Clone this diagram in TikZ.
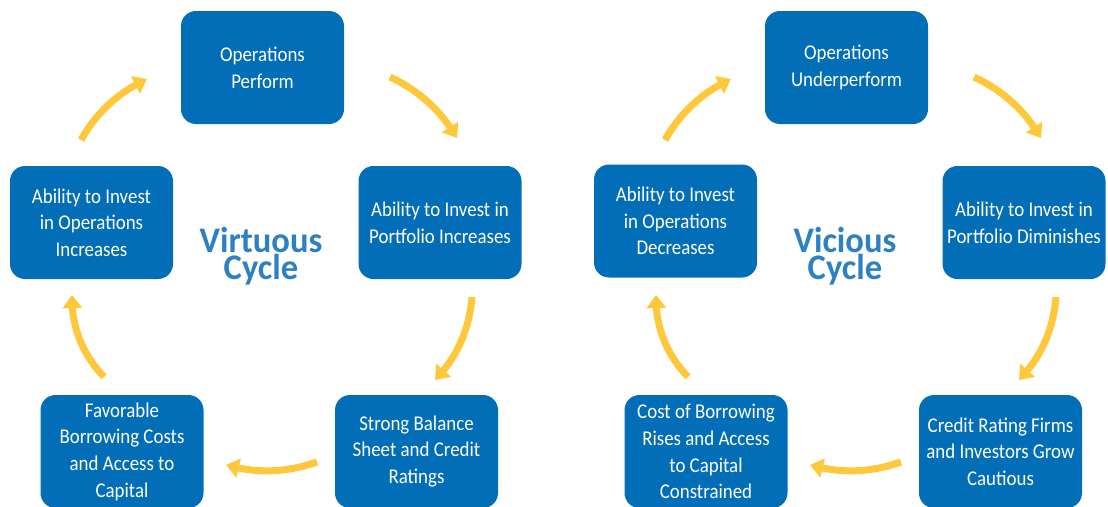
\documentclass[tikz,border=0pt]{standalone}
\usepackage{fontspec}
\setmainfont{Carlito}[FakeStretch=0.9]
\newfontfamily\titlefont{Carlito}[FakeStretch=0.96]
\usetikzlibrary{arrows.meta,bending,calc}
\definecolor{boxblue}{RGB}{2,110,183}
\definecolor{arrowyellow}{RGB}{255,199,58}
\definecolor{titleblue}{RGB}{46,128,197}
\tikzset{
  cbox/.style={draw=none, fill=boxblue, rounded corners=15pt, minimum width=163pt,
    minimum height=113pt, text=white, align=center,
    font=\fontsize{21}{26.7}\selectfont, inner sep=0pt},
  cyc/.style={draw=arrowyellow, line width=7pt, -{Triangle[flex,length=13pt,width=19pt]}},
  ctitle/.style={text=titleblue, anchor=base, inner sep=0pt,
    font=\titlefont\bfseries\fontsize{36}{30}\selectfont}
}
\newcommand{\qarrow}[3]{\draw[cyc] (#1) .. controls ($(#1)!0.6667!(#2)$) and ($(#3)!0.6667!(#2)$) .. (#3);}
\begin{document}
\begin{tikzpicture}[x=1pt,y=-1pt]
\useasboundingbox (0,0) rectangle (1108,506);
\clip (0,0) rectangle (1108,506);
% ---------- Virtuous cycle ----------
\node[cbox] (vop) at (262.5,67.5) {Operations\\Perform};
\node[cbox] (vport) at (440,222.5) {Ability to Invest in\\Portfolio Increases};
\node[cbox] (vstrong) at (416.5,451.5) {Strong Balance\\Sheet and Credit\\Ratings};
\node[cbox] (vfav) at (122,451.5) {Favorable\\Borrowing Costs\\and Access to\\Capital};
\node[cbox] (vinc) at (91.5,222.5) {Ability to Invest\\in Operations\\Increases};
\node[ctitle] (vtitle1) at (261,252) {Virtuous};
\node[ctitle] (vtitle2) at (261,279) {Cycle};
\coordinate (va1s) at (81,140);  \coordinate (va1e) at (147,79);  \coordinate (vc1) at (104,99);
\coordinate (va2s) at (390,77);  \coordinate (va2e) at (457,138); \coordinate (vc2) at (433,97);
\coordinate (va3s) at (472,297); \coordinate (va3e) at (435,380); \coordinate (vc3) at (468,346);
\coordinate (va4s) at (317,462); \coordinate (va4e) at (226,465); \coordinate (vc4) at (271.5,478);
\coordinate (va5s) at (104,377); \coordinate (va5e) at (72,295);  \coordinate (vc5) at (71,342);
\qarrow{va1s}{vc1}{va1e}
\qarrow{va2s}{vc2}{va2e}
\qarrow{va3s}{vc3}{va3e}
\qarrow{va4s}{vc4}{va4e}
\qarrow{va5s}{vc5}{va5e}
% ---------- Vicious cycle ----------
\begin{scope}[xshift=584pt]
\node[cbox] (uop) at (262.5,67.5) {Operations\\Underperform};
\node[cbox] (uport) at (440,222.5) {Ability to Invest in\\Portfolio Diminishes};
\node[cbox] (ucred) at (416.5,451.5) {Credit Rating Firms\\and Investors Grow\\Cautious};
\node[cbox] (ucost) at (122,451.5) {Cost of Borrowing\\Rises and Access\\to Capital\\Constrained};
\node[cbox] (udec) at (91.5,221) {Ability to Invest\\in Operations\\Decreases};
\node[ctitle] (utitle1) at (261,252) {Vicious};
\node[ctitle] (utitle2) at (261,279) {Cycle};
\coordinate (ua1s) at (81,140);  \coordinate (ua1e) at (147,79);  \coordinate (uc1) at (104,99);
\coordinate (ua2s) at (390,77);  \coordinate (ua2e) at (457,138); \coordinate (uc2) at (433,97);
\coordinate (ua3s) at (472,297); \coordinate (ua3e) at (435,380); \coordinate (uc3) at (468,346);
\coordinate (ua4s) at (317,462); \coordinate (ua4e) at (226,465); \coordinate (uc4) at (271.5,478);
\coordinate (ua5s) at (104,377); \coordinate (ua5e) at (72,295);  \coordinate (uc5) at (71,342);
\qarrow{ua1s}{uc1}{ua1e}
\qarrow{ua2s}{uc2}{ua2e}
\qarrow{ua3s}{uc3}{ua3e}
\qarrow{ua4s}{uc4}{ua4e}
\qarrow{ua5s}{uc5}{ua5e}
\end{scope}
\end{tikzpicture}
\end{document}
